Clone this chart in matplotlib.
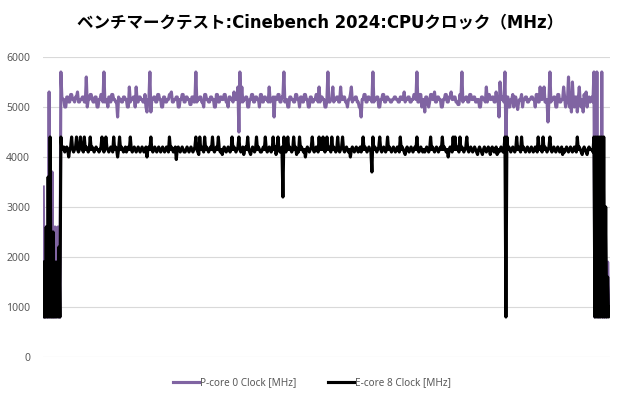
import numpy as np
import matplotlib.pyplot as plt

plt.rcParams['font.family'] = ['Noto Sans', 'Noto Sans CJK JP']

title = 'ベンチマークテスト:Cinebench 2024:CPUクロック（MHz）'
label_p = 'P-core 0 Clock [MHz]'
label_e = 'E-core 8 Clock [MHz]'

# P-core 0 クロック (MHz)
p_core = [
    # 起動直後
    3400, 800, 800, 2600, 800, 800, 5300, 800, 900, 3700,
    800, 800, 2600, 800, 2500, 2600, 800, 800, 5700, 5200,
    # 負荷中
    5150, 5150, 5000, 5000, 5200, 5200, 5100, 5100, 5250, 5250,
    5150, 5150, 5100, 5200, 5200, 5300, 5100, 5100, 5150, 5150,
    5200, 5200, 5100, 5100, 5600, 5000, 5150, 5150, 5250, 5250,
    5150, 5100, 5100, 5200, 5200, 5000, 5000, 5150, 5150, 5250,
    5250, 5100, 5700, 5100, 5150, 5150, 5000, 5200, 5200, 5100,
    5250, 5250, 5150, 5150, 5100, 5100, 4800, 5200, 5150, 5150,
    5100, 5100, 5200, 5200, 5150, 5150, 5000, 5000, 5400, 5100,
    5150, 5150, 5200, 5200, 5000, 5400, 5100, 5100, 5200, 5200,
    5150, 5150, 5100, 5100, 5250, 5000, 4900, 5150, 5150, 5700,
    4900, 5150, 5150, 5200, 5200, 5100, 5100, 5250, 5250, 5150,
    5150, 5000, 5000, 5200, 5200, 5100, 5100, 5150, 5150, 5250,
    5250, 5300, 5100, 5100, 5150, 5150, 5200, 5200, 5000, 5000,
    5150, 5150, 5250, 5250, 5100, 5100, 5200, 5200, 5150, 5150,
    5050, 5050, 5200, 5200, 5100, 5100, 5700, 5100, 5150, 5150,
    5200, 5200, 5100, 5100, 5000, 5250, 5250, 5150, 5150, 5100,
    5100, 5200, 5200, 5150, 5150, 5000, 5000, 5250, 5250, 5100,
    5100, 5200, 5200, 5150, 5150, 5250, 5250, 5100, 5100, 5000,
    5200, 5200, 5150, 5150, 5100, 5300, 5150, 5150, 5200, 5400,
    4500, 5700, 5100, 5400, 5100, 5150, 5150, 5200, 5200, 5000,
    5000, 5150, 5150, 5250, 5250, 5100, 5100, 5200, 5200, 5150,
    5150, 5000, 5250, 5250, 5100, 5100, 5200, 5200, 5150, 5150,
    5100, 5400, 5100, 5150, 5150, 5200, 4800, 5200, 5150, 5150,
    5250, 5250, 5100, 5100, 5200, 5200, 5700, 5100, 5150, 5150,
    5000, 5000, 5200, 5200, 5150, 5150, 5100, 5100, 5250, 5250,
    5150, 5150, 5000, 5200, 5200, 5100, 5100, 5250, 5250, 5150,
    5150, 5000, 5000, 5200, 5200, 5100, 5100, 5150, 5150, 5250,
    5250, 5100, 5400, 5100, 5200, 5200, 5150, 5150, 5000, 5000,
    5150, 5700, 5100, 5100, 5150, 5150, 5400, 5100, 5150, 5150,
    5200, 5200, 5100, 5100, 5400, 5150, 5150, 5200, 5200, 5100,
    5100, 5000, 5150, 5150, 5250, 5400, 5100, 5150, 5150, 5200,
    5200, 5100, 5100, 5000, 5000, 4800, 5150, 5150, 5250, 5250,
    5100, 5100, 5200, 5200, 5150, 5150, 5100, 5700, 5100, 5150,
    5150, 5200, 5200, 5000, 5000, 5150, 5150, 5250, 5250, 5100,
    5100, 5200, 5200, 5150, 5150, 5100, 5100, 5150, 5150, 5200,
    5200, 5150, 5150, 5100, 5100, 5200, 5200, 5150, 5150, 5300,
    5100, 5150, 5150, 5200, 5200, 5100, 5100, 5150, 5150, 5250,
    5250, 5150, 5700, 5100, 5100, 5250, 5250, 5000, 5150, 5150,
    4900, 5200, 5200, 5100, 5000, 5100, 5250, 5250, 5150, 5150,
    5300, 5100, 5100, 5200, 5200, 5150, 5150, 5000, 5000, 5150,
    5150, 5250, 5250, 5100, 5100, 5200, 5200, 5300, 5150, 5150,
    5200, 5200, 5100, 5100, 5050, 5050, 5250, 5150, 5700, 5100,
    5150, 5150, 5200, 5200, 5100, 5100, 5250, 5250, 5150, 5150,
    5200, 5200, 5100, 5100, 5150, 5150, 5000, 5000, 5200, 5200,
    5150, 5150, 5100, 5400, 5100, 5250, 5250, 5150, 5150, 5200,
    5200, 5100, 5100, 5300, 5150, 5150, 4800, 5500, 5150, 5150,
    5200, 5100, 5700, 4400, 5200, 5200, 5000, 5000, 5150, 5150,
    5250, 5000, 5200, 5200, 5100, 4950, 5100, 5150, 5150, 5250,
    5000, 5150, 5150, 5200, 5200, 5100, 5100, 5150, 5150, 5200,
    5200, 5150, 5150, 5000, 5250, 5250, 5100, 5100, 5400, 5150,
    5150, 5200, 5400, 5100, 5100, 5150, 4700, 5150, 5700, 5100,
    5150, 5150, 5200, 5200, 5000, 5000, 5250, 5250, 5100, 5100,
    5150, 5150, 5400, 5200, 5000, 5100, 5150, 5600, 5000, 5150,
    4900, 5500, 5100, 5000, 5200, 5200, 4900, 5150, 5400, 5100,
    5000, 5150, 4900, 5250, 5100, 5300, 5000, 5150, 5200, 5100,
    # 終了後
    5150, 5200, 5100, 5700, 800, 900, 5700, 800, 1000, 800,
    900, 5700, 800, 1900, 800, 1000, 800, 1900, 1100, 900,
]

# E-core 8 クロック (MHz)
e_core = [
    # 起動直後
    1900, 800, 800, 2600, 800, 3600, 800, 4400, 800, 800,
    2500, 800, 1900, 800, 1900, 800, 2200, 800, 4400, 4150,
    # 負荷中
    4150, 4200, 4100, 4150, 4200, 4150, 4000, 4150, 4200, 4400,
    4150, 4100, 4150, 4200, 4400, 4150, 4100, 4150, 4400, 4200,
    4150, 4100, 4400, 4150, 4200, 4150, 4100, 4150, 4400, 4150,
    4200, 4150, 4100, 4150, 4200, 4150, 4150, 4100, 4150, 4200,
    4400, 4150, 4100, 4150, 4400, 4200, 4150, 4100, 4150, 4200,
    4150, 4100, 4400, 4150, 4200, 4150, 4000, 4150, 4400, 4150,
    4200, 4150, 4100, 4150, 4200, 4100, 4150, 4200, 4150, 4400,
    4150, 4100, 4150, 4200, 4150, 4100, 4150, 4200, 4150, 4100,
    4150, 4200, 4150, 4100, 4150, 4200, 4000, 4150, 4200, 4150,
    4400, 4150, 4100, 4150, 4200, 4150, 4100, 4150, 4200, 4150,
    4100, 4150, 4200, 4150, 4100, 4150, 4200, 4150, 4100, 4400,
    4150, 4200, 4150, 4100, 4150, 4200, 3950, 4150, 4200, 4150,
    4100, 4150, 4200, 4150, 4100, 4100, 4150, 4200, 4150, 4100,
    4150, 4200, 4150, 4100, 4150, 4200, 4400, 4150, 4100, 4050,
    4400, 4150, 4200, 4150, 4100, 4400, 4150, 4200, 4150, 4100,
    4150, 4200, 4150, 4400, 4150, 4100, 4150, 4200, 4150, 4400,
    4150, 4100, 4150, 4050, 4150, 4200, 4150, 4100, 4150, 4200,
    4150, 4100, 4150, 4400, 4150, 4200, 4150, 4100, 4150, 4200,
    4400, 4150, 4100, 4150, 4200, 4050, 4150, 4200, 4150, 4400,
    4150, 4100, 4050, 4150, 4200, 4150, 4100, 4150, 4400, 4150,
    4200, 4150, 4100, 4100, 4150, 4200, 4150, 4400, 4150, 4100,
    4150, 4200, 4150, 4100, 4150, 4400, 4150, 4200, 4050, 4150,
    4400, 4150, 4100, 4150, 4200, 3200, 4400, 4150, 4100, 4150,
    4400, 4150, 4200, 4150, 4100, 4150, 4400, 4150, 4200, 4050,
    4150, 4100, 4400, 4150, 4200, 4150, 4100, 4150, 4000, 4150,
    4200, 4150, 4100, 4150, 4200, 4400, 4150, 4100, 4150, 4200,
    4150, 4100, 4400, 4150, 4200, 4150, 4400, 4150, 4100, 4150,
    4400, 4150, 4200, 4150, 4100, 4400, 4150, 4200, 4150, 4100,
    4150, 4400, 4150, 4100, 4150, 4200, 4400, 4150, 4100, 4150,
    4200, 4150, 4100, 4150, 4000, 4150, 4200, 4150, 4100, 4150,
    4200, 4150, 4100, 4150, 4200, 4100, 4150, 4400, 4150, 4200,
    4150, 4100, 4150, 4200, 4150, 4100, 3700, 4400, 4150, 4200,
    4150, 4100, 4150, 4200, 4400, 4150, 4100, 4150, 4200, 4150,
    4100, 4150, 4400, 4150, 4200, 4150, 4100, 4150, 4200, 4150,
    4100, 4150, 4200, 4150, 4100, 4400, 4150, 4200, 4150, 4100,
    4050, 4150, 4200, 4150, 4100, 4150, 4200, 4150, 4100, 4150,
    4200, 4150, 4400, 4150, 4100, 4150, 4200, 4150, 4100, 4150,
    4100, 4150, 4200, 4150, 4100, 4150, 4400, 4150, 4200, 4150,
    4100, 4150, 4200, 4150, 4100, 4150, 4200, 4150, 4400, 4150,
    4200, 4150, 4100, 4150, 4000, 4150, 4200, 4150, 4100, 4400,
    4150, 4400, 4150, 4200, 4150, 4100, 4400, 4150, 4200, 4150,
    4100, 4150, 4200, 4400, 4150, 4100, 4150, 4200, 4150, 4100,
    4150, 4200, 4150, 4100, 4050, 4150, 4200, 4150, 4100, 4050,
    4150, 4200, 4150, 4100, 4150, 4200, 4150, 4050, 4150, 4200,
    4150, 4100, 4150, 4200, 4050, 4150, 4100, 4150, 4200, 4150,
    4100, 4150, 4400, 800, 4400, 4150, 4200, 4150, 4100, 4150,
    4200, 4150, 4100, 4150, 4400, 4150, 4200, 4150, 4100, 4400,
    4150, 4200, 4150, 4100, 4150, 4200, 4150, 4100, 4150, 4200,
    4150, 4100, 4150, 4200, 4150, 4100, 4400, 4150, 4200, 4150,
    4100, 4400, 4150, 4200, 4150, 4100, 4150, 4200, 4400, 4150,
    4100, 4150, 4200, 4150, 4100, 4150, 4200, 4150, 4100, 4150,
    4200, 4050, 4150, 4100, 4150, 4200, 4150, 4100, 4150, 4200,
    4150, 4100, 4150, 4200, 4150, 4100, 4400, 4150, 4200, 4150,
    4100, 4050, 4150, 4200, 4150, 4100, 4050, 4150, 4200, 4150,
    # 終了後
    4150, 4150, 4100, 4400, 800, 4400, 800, 4400, 800, 4400,
    800, 4400, 800, 4400, 800, 3000, 800, 1600, 800, 1000,
]

y_ticks = [0, 1000, 2000, 3000, 4000, 5000, 6000]

fig = plt.figure(figsize=(6.2, 4.0), dpi=100)
ax = fig.add_axes([0.069, 0.1075, 0.915, 0.75])

ax.plot(np.arange(len(p_core)), p_core, color='#8064a2', lw=2.25, label=label_p)
ax.plot(np.arange(len(e_core)), e_core, color='#000000', lw=2.25, label=label_e)

n = max(len(p_core), len(e_core))
ax.set_xlim(-0.5, n - 0.5)
ax.set_ylim(0, 6000)
ax.set_yticks(y_ticks)
ax.set_xticks([])
ax.grid(axis='y', color='#d9d9d9', lw=0.8)
ax.set_axisbelow(True)
for s in ax.spines.values():
    s.set_visible(False)
ax.tick_params(axis='y', length=0, labelsize=7.5, labelcolor='#595959', pad=9)

fig.text(0.516, 0.945, title, ha='center', va='center', fontsize=11.9,
         fontweight='bold', family=['DejaVu Sans', 'Noto Sans CJK JP'])

fig.legend(loc='center', bbox_to_anchor=(0.503, 0.043), ncol=2, frameon=False,
           fontsize=7.2, handlelength=2.6, columnspacing=3.2, labelcolor='#595959',
           handletextpad=0.05)

plt.savefig('out.png', dpi=100)
